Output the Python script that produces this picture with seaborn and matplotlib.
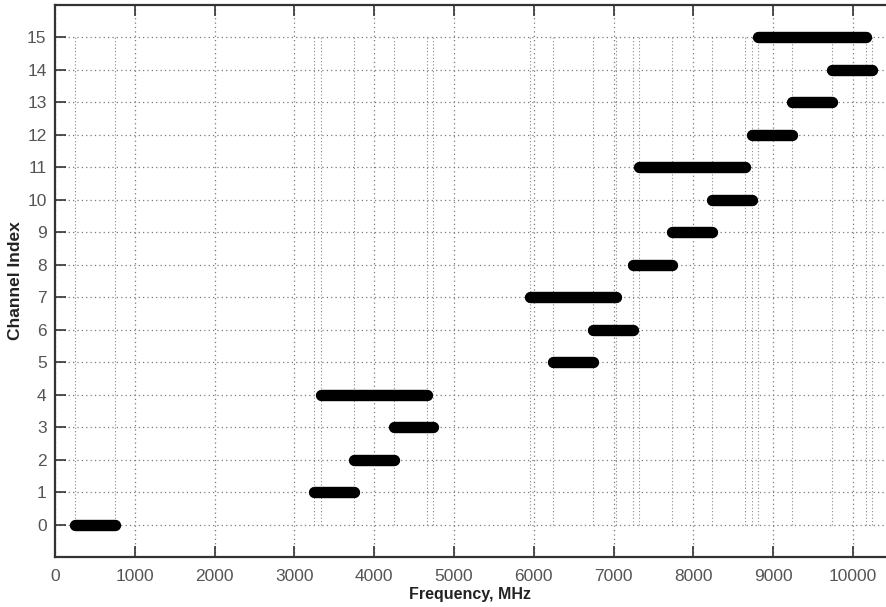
import matplotlib
matplotlib.use("Agg")
import matplotlib.pyplot as plt
import seaborn as sns
import pandas as pd

# UWB channel plan: lower and upper band edges in MHz for each channel index
channels = list(range(16))
band_low = [249.6, 3244.8, 3744.0, 4243.2, 3328.0, 6240.0, 6739.2, 5948.8,
            7238.4, 7737.6, 8236.8, 7321.6, 8736.0, 9235.2, 9734.4, 8807.4]
band_high = [749.6, 3744.0, 4243.2, 4742.4, 4659.2, 6739.2, 7238.4, 7030.4,
             7737.6, 8236.8, 8736.0, 8652.8, 9235.2, 9734.4, 10233.6, 10162.4]
x_ticks = list(range(0, 10001, 1000))
y_tick_labels = [str(c) for c in channels]

rows = []
for ch, lo, hi in zip(channels, band_low, band_high):
    rows.append({"channel": ch, "freq": lo})
    rows.append({"channel": ch, "freq": hi})
df = pd.DataFrame(rows)

sns.set_style("white")
plt.rcParams["font.family"] = ["Liberation Sans", "DejaVu Sans"]

fig = plt.figure(figsize=(8.86, 6.07), dpi=100)
ax = fig.add_axes([0.062, 0.0824, 0.938, 0.9094])

# dotted guide lines at every band edge
edges = sorted(set(band_low) | set(band_high))
ax.vlines(edges, 0, 15, colors="#8a8a8a", linestyles=(0, (1, 2)), linewidth=0.8, zorder=1)

sns.lineplot(data=df, x="freq", y="channel", units="channel", estimator=None,
             sort=False, color="black", linewidth=8.2, solid_capstyle="round",
             ax=ax, zorder=3, legend=False)

ax.set_xlim(0, 10414)
ax.set_ylim(-1, 16)
ax.set_xticks(x_ticks)
ax.set_xticklabels([str(t) for t in x_ticks])
ax.set_yticks(channels)
ax.set_yticklabels(y_tick_labels)

ax.grid(True, which="major", color="#7a7a7a", linestyle=(0, (1, 2.5)), linewidth=0.9)
ax.set_axisbelow(True)

ax.tick_params(axis="both", direction="in", length=8, width=1.2, color="#333333",
               labelsize=12.5, labelcolor="#555555", top=True, right=False, bottom=True, left=True)
ax.tick_params(axis="x", pad=9)
ax.tick_params(axis="y", pad=6)

for side in ["left", "bottom", "top"]:
    ax.spines[side].set_color("#333333")
    ax.spines[side].set_linewidth(1.6)
ax.spines["right"].set_visible(False)

ax.set_xlabel("Frequency, MHz", fontsize=11.5, fontweight="bold", color="#222222", labelpad=2)
ax.set_ylabel("Channel Index", fontsize=12.5, fontweight="bold", color="#222222", labelpad=3)

fig.savefig("out.png", dpi=100)
